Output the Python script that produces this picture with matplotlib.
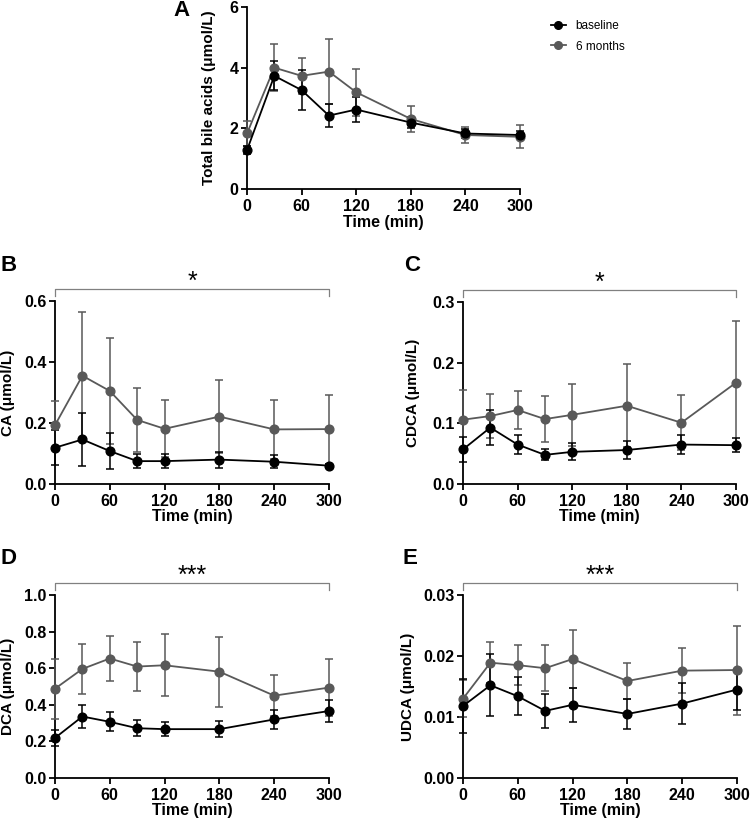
import matplotlib
matplotlib.use("Agg")
import matplotlib.pyplot as plt
from matplotlib.lines import Line2D

plt.rcParams['font.family'] = ['Liberation Sans', 'DejaVu Sans']
plt.rcParams['font.weight'] = 'bold'

# 时间点 (min)
time = [0, 30, 60, 90, 120, 180, 240, 300]

# A: total bile acids
tba_base = [1.28, 3.73, 3.26, 2.42, 2.62, 2.19, 1.83, 1.78]
tba_base_err = [0.14, 0.48, 0.65, 0.37, 0.40, 0.18, 0.16, 0.14]
tba_6m = [1.83, 4.00, 3.73, 3.87, 3.19, 2.31, 1.78, 1.72]
tba_6m_err = [0.42, 0.77, 0.60, 1.07, 0.77, 0.44, 0.26, 0.38]

# B: CA
ca_base = [0.119, 0.146, 0.108, 0.075, 0.075, 0.080, 0.073, 0.060]
ca_base_err = [0.058, 0.088, 0.058, 0.023, 0.023, 0.026, 0.021, 0.004]
ca_6m = [0.193, 0.355, 0.305, 0.210, 0.181, 0.221, 0.179, 0.180]
ca_6m_err = [0.079, 0.210, 0.175, 0.104, 0.093, 0.120, 0.096, 0.113]

# C: CDCA
cdca_base = [0.057, 0.093, 0.065, 0.048, 0.053, 0.056, 0.065, 0.064]
cdca_base_err = [0.021, 0.029, 0.016, 0.009, 0.014, 0.015, 0.015, 0.011]
cdca_6m = [0.106, 0.112, 0.122, 0.107, 0.114, 0.129, 0.101, 0.167]
cdca_6m_err = [0.049, 0.037, 0.032, 0.038, 0.051, 0.068, 0.045, 0.101]

# D: DCA
dca_base = [0.219, 0.336, 0.307, 0.272, 0.267, 0.267, 0.320, 0.366]
dca_base_err = [0.045, 0.062, 0.051, 0.044, 0.040, 0.044, 0.053, 0.060]
dca_6m = [0.488, 0.596, 0.653, 0.609, 0.616, 0.581, 0.450, 0.494]
dca_6m_err = [0.163, 0.135, 0.124, 0.134, 0.170, 0.192, 0.111, 0.155]

# E: UDCA
udca_base = [0.0118, 0.0152, 0.0134, 0.0110, 0.0120, 0.0105, 0.0122, 0.0145]
udca_base_err = [0.0044, 0.0051, 0.0031, 0.0028, 0.0028, 0.0024, 0.0033, 0.0033]
udca_6m = [0.0130, 0.0189, 0.0185, 0.0180, 0.0195, 0.0159, 0.0176, 0.0177]
udca_6m_err = [0.0030, 0.0034, 0.0033, 0.0038, 0.0047, 0.0030, 0.0037, 0.0073]

GREY = '#595959'
W, H = 750, 821


def add_ax(fig, x0, x1, y_top, y_bot):
    return fig.add_axes([x0 / W, 1 - y_bot / H, (x1 - x0) / W, (y_bot - y_top) / H])


def draw_panel(ax, base, base_err, m6, m6_err, ylabel, ylim, yticks, yfmt, ylab_x):
    for vals, errs, c in [(m6, m6_err, GREY), (base, base_err, 'black')]:
        ax.errorbar(time, vals, yerr=errs, color=c, ecolor=c, marker='o', markersize=6.3,
                    linewidth=1.3, elinewidth=1.1, capsize=3.2, capthick=1.1, clip_on=False, zorder=3)
    ax.set_xlim(0, 300)
    ax.set_ylim(*ylim)
    ax.set_xticks([0, 60, 120, 180, 240, 300])
    ax.set_yticks(yticks)
    ax.set_yticklabels([yfmt.format(v) for v in yticks])
    for s in ['top', 'right']:
        ax.spines[s].set_visible(False)
    for s in ['left', 'bottom']:
        ax.spines[s].set_linewidth(1.3)
    ax.tick_params(axis='both', length=4, width=1.3, labelsize=11.5)
    ax.tick_params(axis='y', pad=2)
    ax.tick_params(axis='x', pad=3)
    ax.set_ylabel(ylabel, fontsize=11, fontweight='bold', va='center')
    ax.yaxis.set_label_coords(ylab_x, 0.5)
    ax.set_xlabel('Time (min)', fontsize=11.5, fontweight='bold', va='center')
    ax.xaxis.set_label_coords(0.5, -0.18)


def bracket(ax, stars):
    tr = ax.get_xaxis_transform()
    ax.plot([0, 0, 300, 300], [1.03, 1.068, 1.068, 1.03], color='#808080', lw=0.9,
            transform=tr, clip_on=False)
    ax.text(150, 1.105, stars, transform=tr, ha='center', va='center', fontsize=18,
            fontweight='normal', color='black')


fig = plt.figure(figsize=(7.5, 8.21), dpi=100)

axA = add_ax(fig, 247, 520, 7, 189)
draw_panel(axA, tba_base, tba_base_err, tba_6m, tba_6m_err, 'Total bile acids (\u03bcmol/L)',
           (0, 6), [0, 2, 4, 6], '{:g}', -0.14)
axA.xaxis.set_label_coords(0.5, -0.185)

axB = add_ax(fig, 55, 329, 301, 484)
draw_panel(axB, ca_base, ca_base_err, ca_6m, ca_6m_err, 'CA (\u03bcmol/L)',
           (0, 0.6), [0, 0.2, 0.4, 0.6], '{:.1f}', -0.172)
bracket(axB, '*')

axC = add_ax(fig, 463, 736, 302, 484)
draw_panel(axC, cdca_base, cdca_base_err, cdca_6m, cdca_6m_err, 'CDCA (\u03bcmol/L)',
           (0, 0.3), [0, 0.1, 0.2, 0.3], '{:.1f}', -0.183)
bracket(axC, '*')

axD = add_ax(fig, 55, 329, 595, 778)
draw_panel(axD, dca_base, dca_base_err, dca_6m, dca_6m_err, 'DCA (\u03bcmol/L)',
           (0, 1.0), [0, 0.2, 0.4, 0.6, 0.8, 1.0], '{:.1f}', -0.172)
bracket(axD, '***')

axE = add_ax(fig, 463, 737, 595, 778)
draw_panel(axE, udca_base, udca_base_err, udca_6m, udca_6m_err, 'UDCA (\u03bcmol/L)',
           (0, 0.03), [0, 0.01, 0.02, 0.03], '{:.2f}', -0.2)
bracket(axE, '***')

# 图例
handles = [Line2D([], [], color='black', marker='o', markersize=5.5, lw=1.3),
           Line2D([], [], color=GREY, marker='o', markersize=5.5, lw=1.3)]
fig.legend(handles, ['baseline', '6 months'], loc='upper left', bbox_to_anchor=(546 / W, 1 - 15 / H),
           frameon=False, prop={'size': 8.5, 'weight': 'normal'}, handlelength=1.3,
           handletextpad=0.8, labelspacing=0.75, borderaxespad=0)

# 面板字母
for lab, x, y in [('A', 182, 11), ('B', 9, 265), ('C', 412, 265), ('D', 8, 559), ('E', 410, 559)]:
    fig.text(x / W, 1 - y / H, lab, fontsize=16, fontweight='bold', ha='center', va='center')

fig.savefig('out.png', dpi=100)
